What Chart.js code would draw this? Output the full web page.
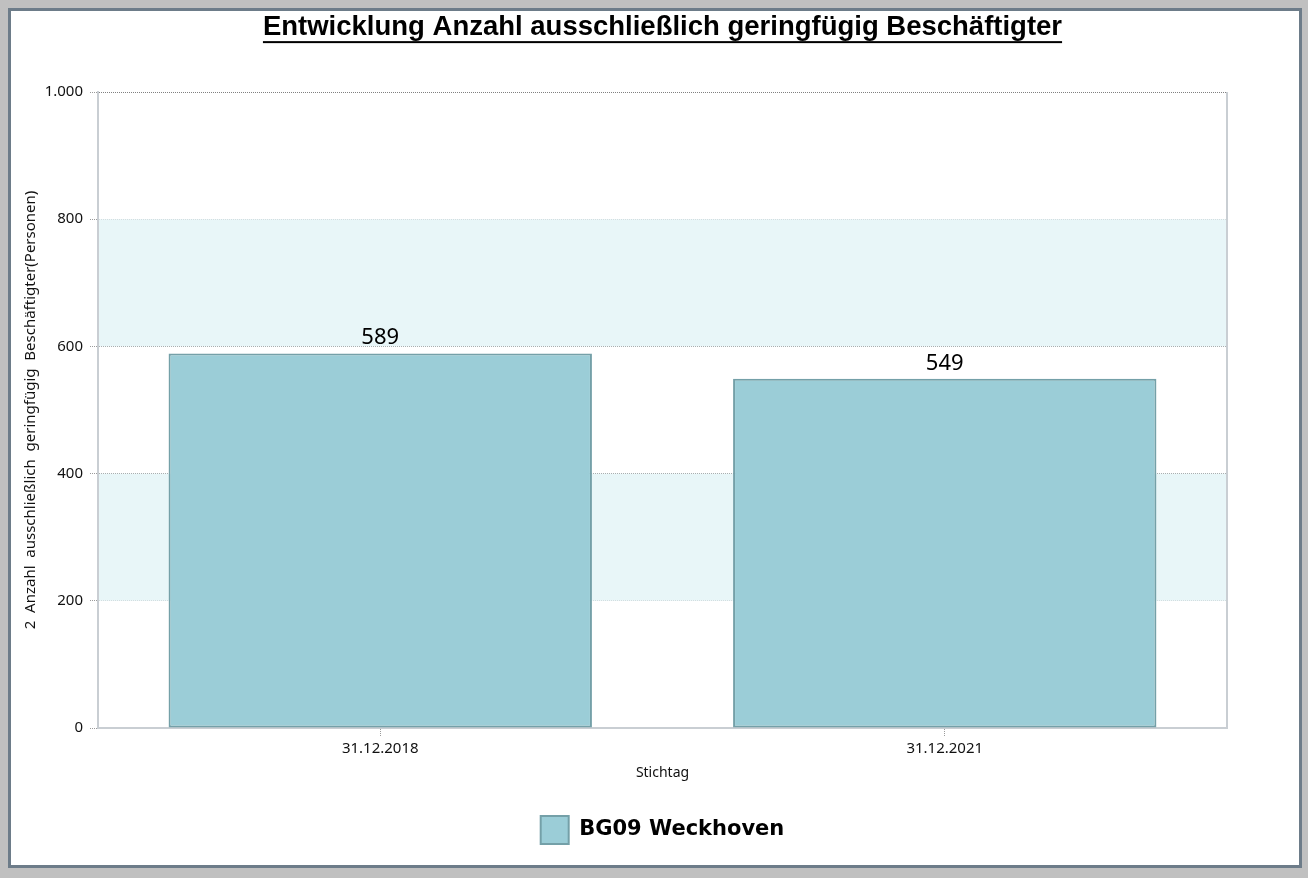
<!DOCTYPE html>
<html>
<head>
<meta charset="utf-8">
<script src="https://cdn.jsdelivr.net/npm/chart.js@4"></script>
<style>
  body { margin: 0; background: #c0c0c0; width: 1308px; height: 878px; overflow: hidden; }
  #panel { position: absolute; left: 8px; top: 8px; width: 1288px; height: 854px; background: #fff; border: 3px solid #6d7c89; }
  #wrap { position: absolute; left: 0; top: 0; width: 1308px; height: 878px; }
</style>
</head>
<body>
<div id="panel"></div>
<div id="wrap"><canvas id="chart" width="1308" height="878"></canvas></div>
<script>
const stichtage = ["31.12.2018", "31.12.2021"];
const anzahl = [589, 549];
const seriesName = "BG09 Weckhoven";
const yTicks = [0, 200, 400, 600, 800, 1000];
const bands = [[200, 400], [600, 800]];

// striped background + right frame line
const bandPlugin = {
  id: "bands",
  beforeDatasetsDraw(chart) {
    const { ctx, chartArea } = chart;
    const y = chart.scales.y;
    ctx.save();
    ctx.fillStyle = "#e8f6f8";
    bands.forEach(([a, b]) => {
      const top = y.getPixelForValue(b);
      const bottom = y.getPixelForValue(a);
      ctx.fillRect(chartArea.left + 1, top, chartArea.right - chartArea.left - 1, bottom - top);
    });
    ctx.restore();
  },
  afterDraw(chart) {
    const { ctx, chartArea } = chart;
    ctx.save();
    ctx.strokeStyle = "#c9ced3";
    ctx.lineWidth = 2;
    ctx.beginPath();
    ctx.moveTo(chartArea.right, chartArea.top);
    ctx.lineTo(chartArea.right, chartArea.bottom);
    ctx.stroke();
    ctx.restore();
  }
};

// value labels over the bars
const valuePlugin = {
  id: "values",
  afterDatasetsDraw(chart) {
    const { ctx } = chart;
    const meta = chart.getDatasetMeta(0);
    ctx.save();
    ctx.font = "22px 'Noto Sans'";
    ctx.fillStyle = "#000";
    ctx.textAlign = "center";
    ctx.textBaseline = "alphabetic";
    meta.data.forEach((bar, i) => {
      ctx.fillText(String(anzahl[i]), bar.x, bar.y - 9);
    });
    ctx.restore();
  }
};

// underline for the title
const underlinePlugin = {
  id: "underline",
  afterDraw(chart) {
    const tb = chart.titleBlock;
    if (!tb) return;
    const { ctx } = chart;
    const opts = tb.options;
    ctx.save();
    ctx.font = "bold " + opts.font.size + "px " + opts.font.family;
    const w = ctx.measureText(opts.text).width;
    const mid = tb.top + opts.padding.top + opts.font.size * 1.2 / 2;
    const cx = (tb.left + tb.right) / 2;
    ctx.fillStyle = "#000";
    ctx.fillRect(cx - w / 2, mid + opts.font.size * 0.35 + 4, w, 2);
    ctx.restore();
  }
};

new Chart(document.getElementById("chart"), {
  type: "bar",
  data: {
    labels: stichtage,
    datasets: [{
      label: seriesName,
      data: anzahl,
      backgroundColor: "#9bcdd7",
      borderColor: "#74a0a8",
      borderWidth: 2,
      borderSkipped: false,
      barPercentage: 0.75,
      categoryPercentage: 1
    }]
  },
  options: {
    responsive: false,
    animation: false,
    locale: "de-DE",
    layout: { padding: { left: 18, right: 81, top: 0, bottom: 24 } },
    plugins: {
      tooltip: { enabled: false },
      title: {
        display: true,
        fullSize: false,
        text: "Entwicklung Anzahl ausschließlich geringfügig Beschäftigter",
        color: "#000",
        font: { family: "'Liberation Sans', Arial", size: 27.5, weight: "bold" },
        padding: { top: 11, bottom: 48 }
      },
      legend: {
        position: "bottom",
        fullSize: false,
        labels: {
          boxWidth: 28,
          boxHeight: 28,
          padding: 30.6,
          color: "#000",
          font: { family: "'DejaVu Sans'", size: 21, weight: "bold" }
        }
      }
    },
    scales: {
      x: {
        afterFit(scale) { scale.height = 57.4; },
        grid: {
          display: true,
          offset: false,
          drawOnChartArea: false,
          drawTicks: true,
          tickLength: 8,
          tickColor: "#9a9a9a",
          tickBorderDash: [1, 1]
        },
        border: { display: true, color: "#c9ced3", width: 2 },
        ticks: {
          color: "#111",
          padding: 4,
          font: { family: "'Noto Sans'", size: 15 }
        },
        title: {
          display: true,
          text: "Stichtag",
          color: "#111",
          padding: { top: 4, bottom: 4 },
          font: { family: "'Noto Sans'", size: 14 }
        }
      },
      y: {
        min: 0,
        max: 1000,
        afterFit(scale) { scale.width = 80; },
        afterBuildTicks(scale) { scale.ticks = yTicks.map(v => ({ value: v })); },
        grid: {
          color: "#808080",
          lineWidth: 1,
          tickLength: 8,
          tickColor: "#9a9a9a",
          tickBorderDash: [1, 1]
        },
        border: { display: true, color: "#c9ced3", width: 2, dash: [1, 1] },
        ticks: {
          color: "#111",
          padding: 7,
          font: { family: "'Noto Sans'", size: 15 }
        },
        title: {
          display: true,
          text: "2  Anzahl  ausschließlich  geringfügig  Beschäftigter(Personen)",
          color: "#111",
          padding: { top: 4, bottom: 4 },
          font: { family: "'Noto Sans'", size: 15 }
        }
      }
    }
  },
  plugins: [bandPlugin, valuePlugin, underlinePlugin]
});
</script>
</body>
</html>
